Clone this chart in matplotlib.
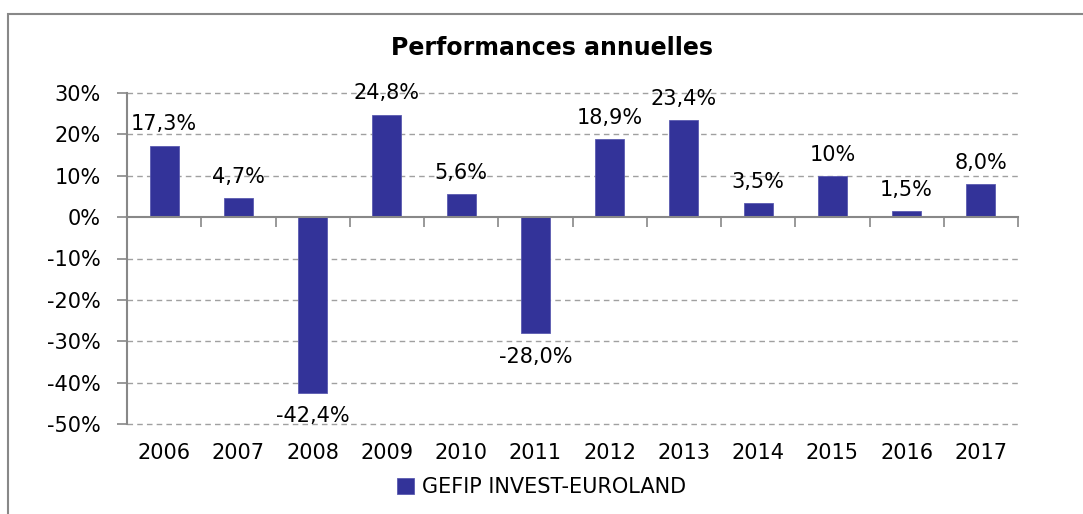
import matplotlib
matplotlib.use("Agg")
import matplotlib.pyplot as plt
from matplotlib.patches import Rectangle

years = ["2006", "2007", "2008", "2009", "2010", "2011",
         "2012", "2013", "2014", "2015", "2016", "2017"]
perf = [17.3, 4.7, -42.4, 24.8, 5.6, -28.0, 18.9, 23.4, 3.5, 10.0, 1.5, 8.0]
labels = ["17,3%", "4,7%", "-42,4%", "24,8%", "5,6%", "-28,0%",
          "18,9%", "23,4%", "3,5%", "10%", "1,5%", "8,0%"]
yticks = [30, 20, 10, 0, -10, -20, -30, -40, -50]
series_name = "GEFIP INVEST-EUROLAND"
title = "Performances annuelles"

plt.rcParams['font.family'] = ['DejaVu Sans']
W, H = 1083, 514
fig = plt.figure(figsize=(W/100, H/100), dpi=100)
ax = fig.add_axes([127/W, 1-424/H, (1018-127)/W, (424-93)/H])

FS = 15
bar_color = "#333399"
x = list(range(len(years)))
bars = ax.bar(x, perf, width=0.39, color=bar_color, edgecolor="#5a5ab0",
              linewidth=0.6, zorder=3, label=series_name)

ax.set_xlim(-0.5, len(years) - 0.5)
ax.set_ylim(-50, 30)
ax.set_yticks(yticks)
ax.set_yticklabels([f"{v}%" for v in yticks])
ax.tick_params(axis='y', length=7, width=1.2, color="#888888", pad=12,
               labelsize=FS)

for v in yticks:
    if v != 0:
        ax.axhline(v, color="#a0a0a0", linestyle=(0, (4, 3)), linewidth=1,
                   zorder=1, clip_on=False)

for s in ["top", "right"]:
    ax.spines[s].set_visible(False)
ax.spines["left"].set_color("#888888")
ax.spines["left"].set_linewidth(1.5)
ax.spines["left"].set_zorder(4)
ax.spines["bottom"].set_position(("data", 0))
ax.spines["bottom"].set_color("#888888")
ax.spines["bottom"].set_linewidth(1.5)
ax.spines["bottom"].set_zorder(4)
ax.set_xticks([i - 0.5 for i in range(len(years) + 1)])
ax.set_xticklabels([])
ax.tick_params(axis='x', length=7, width=1.2, color="#888888", direction='out')

sec = ax.secondary_xaxis('bottom')
sec.set_xticks(x)
sec.set_xticklabels(years)
sec.tick_params(length=0, labelsize=FS, pad=14)
sec.spines['bottom'].set_visible(False)

for xi, v, lab in zip(x, perf, labels):
    if v >= 0:
        ax.annotate(lab, (xi, v), xytext=(0, 8), textcoords="offset points",
                    ha="center", va="bottom", fontsize=FS, zorder=5)
    else:
        ax.annotate(lab, (xi, v), xytext=(0, -10), textcoords="offset points",
                    ha="center", va="top", fontsize=FS, zorder=5)

fig.text(552/W, 1-48/H, title, ha="center", va="center", fontsize=17,
         fontweight="bold")

leg = fig.legend(handles=[bars], labels=[series_name], loc="center",
                 bbox_to_anchor=(542/W, 1-487/H), frameon=False, fontsize=15,
                 handlelength=0.8, handleheight=0.8, handletextpad=0.4)

fig.patches.append(Rectangle((8/W, -0.1), 1.2, 1.1 - 14/H,
                             transform=fig.transFigure, fill=False,
                             edgecolor="#888888", linewidth=1.5))

fig.savefig("out.png", dpi=100)
